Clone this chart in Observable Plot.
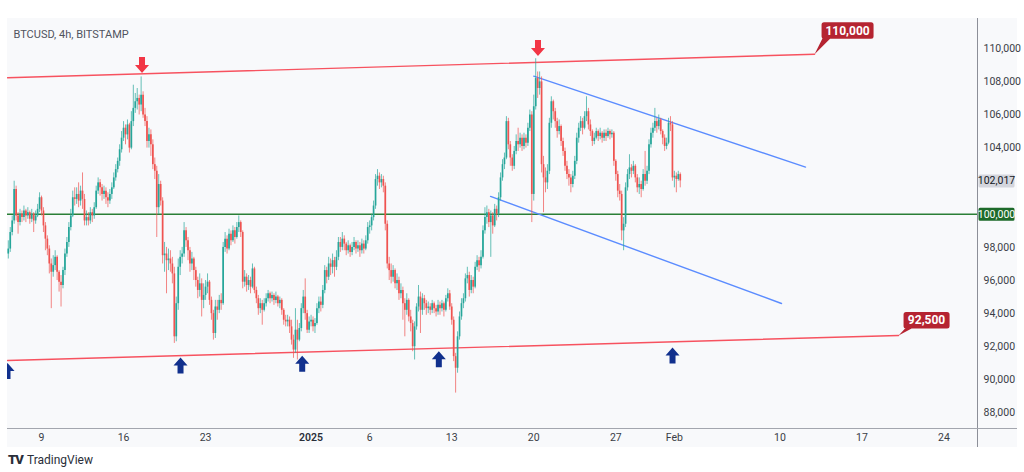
<!DOCTYPE html>
<html>
<head>
<meta charset="utf-8">
<script src="https://cdn.jsdelivr.net/npm/d3@7"></script>
<script src="https://cdn.jsdelivr.net/npm/@observablehq/plot@0.6"></script>
<style>
  body { margin:0; background:#ffffff; font-family: Roboto, "Noto Sans", sans-serif; }
  #wrap { position:relative; width:1024px; height:472px; overflow:hidden; }
  #panel { position:absolute; left:7px; top:18px; width:1010px; height:429px; background:#f8f9fb; }
  #chart { position:absolute; left:0; top:0; width:1024px; }
  .vline { position:absolute; left:977px; top:18px; width:1px; height:429px; background:#8c8f98; }
  .hline { position:absolute; left:7px; top:428px; width:1010px; height:1px; background:#a3a6ae; }
  #logo { position:absolute; left:8px; top:452px; font-size:12px; color:#2a2e39; display:flex; align-items:center; gap:4px; }
  #logo b { font-size:13px; letter-spacing:-1px; font-weight:900; }
</style>
</head>
<body>
<div id="wrap">
  <div id="panel"></div>
  <div id="chart"></div>
  <div class="vline"></div>
  <div class="hline"></div>
  <div id="logo"><b>TV</b><span>TradingView</span></div>
</div>
<script>
// ---------- DATA (prices in thousands of USD, 4h candles from 2024-12-06 04:00 UTC) ----------
const chartTitle = "BTCUSD, 4h, BITSTAMP";
const firstStart = "2024-12-06T04:00:00Z";
const firstOpenK = 97.6;

const closeK = [
  97.9,98.9,99.6,101.5,99.9,                 // Dec 6
  99.5,100.0,99.8,100.2,99.9,100.1,          // Dec 7
  99.7,100.0,99.6,99.9,100.3,101.0,          // Dec 8
  100.2,99.3,98.5,97.9,97.0,96.5,            // Dec 9
  96.9,97.4,96.5,95.9,95.7,96.6,             // Dec 10
  97.6,98.3,99.2,99.9,101.0,100.9,           // Dec 11
  101.2,100.8,101.4,100.9,99.6,99.8,         // Dec 12
  99.6,100.1,99.9,100.4,101.4,101.9,         // Dec 13
  101.6,101.2,101.4,101.0,100.8,101.2,       // Dec 14
  101.6,102.2,102.7,103.2,103.9,104.6,       // Dec 15
  105.2,104.8,105.4,104.0,105.6,106.4,       // Dec 16
  106.8,107.0,106.6,107.2,106.0,105.6,       // Dec 17
  104.4,104.8,104.2,103.0,102.6,100.4,       // Dec 18
  101.8,100.8,97.5,97.6,97.2,97.3,           // Dec 19
  97.0,96.4,92.6,94.6,96.8,97.4,             // Dec 20
  97.6,99.0,98.4,97.8,97.0,97.3,             // Dec 21
  96.6,96.0,95.4,95.8,94.8,95.1,             // Dec 22
  95.6,95.9,94.8,94.0,92.8,94.4,             // Dec 23
  94.2,94.8,94.6,98.0,98.5,97.9,             // Dec 24
  98.8,98.4,99.0,98.6,99.2,99.5,             // Dec 25
  98.9,95.9,96.2,95.7,96.0,95.6,             // Dec 26
  96.7,95.4,94.9,94.3,94.6,94.2,             // Dec 27
  94.6,94.9,95.2,94.9,95.1,94.8,             // Dec 28
  95.0,94.6,94.8,94.2,93.6,93.5,             // Dec 29
  93.6,93.2,92.4,91.8,93.0,92.4,             // Dec 30
  93.1,94.3,95.0,94.0,93.0,93.5,             // Dec 31
  93.6,93.2,93.4,94.3,94.7,94.5,             // Jan 1
  95.4,96.6,96.2,97.0,96.8,97.2,             // Jan 2
  96.8,97.4,98.3,98.0,98.5,98.2,             // Jan 3
  97.8,98.1,97.7,98.0,98.3,97.9,             // Jan 4
  98.1,97.8,98.2,97.9,98.4,99.2,             // Jan 5
  99.3,99.8,100.5,102.1,102.3,101.9,         // Jan 6
  102.1,101.7,99.4,97.0,96.6,96.2,           // Jan 7
  96.6,95.8,96.0,95.2,95.4,94.6,             // Jan 8
  94.2,94.8,93.8,93.4,92.0,93.2,             // Jan 9
  94.4,95.0,94.2,94.9,94.6,94.3,             // Jan 10
  94.4,94.2,94.6,94.3,94.1,94.5,             // Jan 11
  94.3,94.6,94.2,94.9,95.2,94.4,             // Jan 12
  93.6,91.4,90.7,92.6,93.8,94.6,             // Jan 13
  94.9,96.1,96.3,95.4,96.0,95.6,             // Jan 14
  96.8,97.2,96.9,97.4,99.0,99.8,             // Jan 15
  100.1,99.5,99.9,99.3,100.3,100.0,          // Jan 16
  101.0,102.2,103.0,103.4,105.6,104.2,       // Jan 17
  103.4,102.9,103.8,104.4,104.2,104.6,       // Jan 18
  104.1,104.6,104.3,105.2,106.0,101.2,       // Jan 19
  106.5,108.2,107.6,108.0,103.0,102.2,       // Jan 20
  101.9,102.6,105.5,106.8,106.2,105.6,       // Jan 21
  105.0,105.3,104.4,103.8,102.9,102.4,       // Jan 22
  102.2,101.8,102.3,103.2,104.6,105.2,       // Jan 23
  105.6,105.2,105.9,106.2,105.4,105.0,       // Jan 24
  104.4,104.6,105.0,104.7,104.9,104.6,       // Jan 25
  104.9,104.7,105.0,104.8,104.9,103.2,       // Jan 26
  102.4,101.4,101.2,99.0,99.4,101.6,         // Jan 27
  102.4,102.8,102.6,102.9,102.2,101.6,       // Jan 28
  101.8,101.5,102.4,102.0,102.6,104.2,       // Jan 29
  104.9,105.2,105.6,105.3,105.7,105.0,       // Jan 30
  104.6,104.1,104.3,105.5,105.4,102.2,       // Jan 31
  102.3,102.1,102.4,102.017                  // Feb 1
];
const highK = [
  98.4,99.2,99.9,102.0,101.7,
  100.1,100.3,100.2,100.5,100.3,100.4,
  100.2,100.3,100.1,100.2,100.6,101.3,
  101.1,100.4,99.5,98.7,98.1,97.3,
  97.5,97.8,97.5,96.6,96.3,96.8,
  97.9,98.6,99.5,100.3,101.4,101.6,
  101.6,101.9,101.7,102.5,101.2,100.2,
  100.1,100.4,100.3,100.7,101.7,102.2,
  102.1,101.8,101.7,101.6,101.3,101.5,
  101.9,102.5,103.0,103.4,104.2,105.0,
  105.6,105.4,105.7,105.5,106.2,107.8,
  107.3,107.6,107.2,108.3,107.4,106.4,
  105.9,105.2,105.1,104.5,103.4,102.9,
  102.4,102.0,101.0,98.3,98.0,97.9,
  97.8,97.4,96.8,95.0,97.3,97.8,
  98.0,99.5,99.2,98.6,98.0,97.7,
  97.4,96.8,96.2,96.4,96.1,95.8,
  96.0,96.4,96.0,95.0,94.2,94.8,
  94.8,95.1,95.2,98.3,98.9,98.7,
  99.1,99.0,99.3,99.2,99.5,99.9,
  99.6,99.0,96.6,96.4,96.3,96.2,
  97.0,96.8,95.6,95.1,94.9,94.8,
  94.9,95.2,95.4,95.3,95.3,95.2,
  95.3,95.1,95.0,94.9,94.3,93.9,
  93.9,93.8,93.6,92.7,94.3,93.6,
  93.4,94.6,95.4,96.1,94.2,93.8,
  93.9,93.8,93.7,94.6,95.0,95.0,
  95.7,96.9,96.8,97.4,97.3,97.6,
  97.4,97.8,98.6,98.6,98.9,98.7,
  98.3,98.4,98.2,98.3,98.6,98.4,
  98.4,98.3,98.5,98.4,98.7,99.5,
  99.6,100.0,100.8,102.4,102.7,102.5,
  102.4,102.3,101.9,99.6,97.4,97.0,
  96.9,96.7,96.4,96.2,95.8,95.6,
  94.9,95.2,94.9,94.2,93.6,93.5,
  94.6,95.7,95.3,95.2,95.1,94.8,
  94.7,94.6,94.8,94.7,94.5,94.8,
  94.7,94.8,94.7,95.1,95.5,95.4,
  94.6,93.8,91.6,92.9,94.1,94.9,
  95.2,96.4,96.8,96.5,96.3,96.2,
  97.1,97.5,97.4,97.8,99.3,100.4,
  100.5,100.3,100.2,100.1,100.6,100.5,
  101.3,102.5,103.3,103.7,105.9,105.8,
  104.4,103.6,104.1,104.8,105.2,104.9,
  104.8,104.9,104.8,105.5,106.3,106.2,
  107.2,109.4,108.6,108.6,108.3,103.5,
  102.8,103.0,105.8,107.1,106.9,106.4,
  105.8,105.7,105.4,104.6,104.0,103.2,
  102.7,102.4,102.6,103.5,104.9,105.5,
  105.9,105.8,106.2,107.1,106.4,105.7,
  105.1,104.9,105.2,105.1,105.2,105.0,
  105.1,105.1,105.2,105.1,105.1,105.0,
  103.3,102.6,101.8,101.4,99.8,101.9,
  102.7,103.6,103.0,103.2,103.0,102.4,
  102.2,102.0,102.7,103.8,102.9,104.5,
  105.2,105.5,106.4,105.8,106.0,105.8,
  105.1,104.8,104.6,105.8,105.9,105.6,
  102.6,102.5,102.6,102.5
];
const lowK = [
  97.3,97.7,98.7,99.4,99.6,
  98.8,99.3,99.5,99.6,99.5,99.7,
  99.4,99.5,98.9,99.4,99.8,100.1,
  99.9,98.9,97.8,97.5,96.4,94.3,
  96.2,96.6,96.0,95.3,94.4,95.5,
  96.3,97.4,98.0,99.0,99.8,100.5,
  100.6,100.4,100.5,100.3,99.3,99.3,
  99.3,99.4,99.5,99.7,100.3,101.2,
  101.1,100.8,100.9,100.6,100.4,100.6,
  100.9,101.5,102.0,102.5,102.9,103.7,
  104.4,104.2,104.5,103.7,103.9,105.3,
  106.1,106.3,106.0,106.2,105.8,105.3,
  104.0,104.0,103.5,102.7,102.1,98.6,
  100.0,100.5,97.0,96.5,95.2,96.6,
  96.5,95.8,92.2,92.3,94.2,96.3,
  97.0,97.4,98.0,97.2,96.5,96.6,
  96.0,95.6,94.9,95.0,93.8,94.3,
  94.8,95.2,94.5,93.6,92.4,92.5,
  93.6,94.0,94.2,94.5,97.7,97.6,
  97.8,98.1,98.3,98.2,98.5,98.9,
  98.6,95.5,95.6,95.3,95.4,95.2,
  95.5,95.2,94.6,93.9,94.0,93.3,
  94.1,94.4,94.7,94.6,94.7,94.5,
  94.6,94.4,94.3,93.9,93.3,93.2,
  93.2,92.8,92.1,91.3,91.6,91.2,
  92.3,92.9,94.0,93.6,92.8,92.8,
  93.2,92.9,92.8,93.3,94.0,94.1,
  94.3,95.2,95.8,96.0,96.3,96.4,
  96.2,96.6,97.2,97.7,97.8,97.8,
  97.5,97.6,97.4,97.5,97.8,97.6,
  97.7,97.4,97.6,97.6,97.8,98.2,
  98.8,99.0,99.6,100.3,101.7,101.5,
  101.6,101.3,99.0,96.7,96.0,95.8,
  95.9,95.5,95.4,94.8,94.9,93.6,
  92.6,93.9,93.5,92.9,91.7,91.2,
  93.0,94.1,92.8,93.9,94.2,93.9,
  94.0,93.9,94.0,94.0,93.8,93.9,
  93.9,94.1,93.8,94.1,94.7,94.2,
  93.3,91.1,89.2,90.4,92.4,93.6,
  94.3,94.7,95.8,95.0,95.2,95.2,
  95.5,96.6,96.5,96.7,97.3,98.8,
  99.4,99.2,97.4,98.8,99.2,99.6,
  99.8,100.8,102.0,102.7,103.3,103.9,
  102.9,102.6,102.7,103.6,103.8,104.0,
  103.8,103.9,104.0,104.1,105.0,99.5,
  100.8,106.3,107.0,107.2,102.5,100.1,
  101.3,101.5,102.4,105.2,105.7,105.2,
  104.6,104.8,104.1,103.5,102.6,102.1,
  101.7,101.3,101.6,102.1,103.0,104.3,
  105.0,104.8,105.1,105.6,105.1,104.7,
  104.1,104.2,104.5,104.4,104.5,104.3,
  104.4,104.4,104.6,104.5,104.6,102.9,
  102.0,101.0,100.8,98.4,97.8,99.2,
  101.4,102.1,102.2,102.4,101.9,101.3,
  101.2,101.0,101.4,101.7,101.8,102.4,
  104.0,104.6,105.0,104.9,105.1,104.8,
  104.2,103.8,103.9,104.2,105.0,102.0,
  101.6,101.3,102.0,101.6
];

// horizontal level and trendlines (time, price k)
const levelK = 100;
const resistanceTimes = ["2024-12-06T02:22:00Z", "2025-02-12T23:00:00Z"];
const resistanceK = [108.25, 109.67];
const supportTimes = ["2024-12-06T02:22:00Z", "2025-02-20T03:00:00Z"];
const supportK = [91.17, 92.68];
const channelUpperTimes = ["2025-01-20T00:00:00Z", "2025-02-12T04:30:00Z"];
const channelUpperK = [108.35, 102.85];
const channelLowerTimes = ["2025-01-16T07:30:00Z", "2025-02-10T03:20:00Z"];
const channelLowerK = [101.08, 94.61];

// arrows
const downArrowTimes = ["2024-12-17T13:48:00Z", "2025-01-20T08:40:00Z"];
const downArrowK = [109.02, 110.05];
const upArrowTimes = ["2024-12-06T02:22:00Z", "2024-12-20T20:40:00Z", "2024-12-31T05:50:00Z", "2025-01-11T21:36:00Z", "2025-01-31T20:10:00Z"];
const upArrowK = [90.53, 90.86, 90.97, 91.24, 91.47];

// callouts
const calloutLabels = ["110,000", "92,500"];

// axes
const xTickDates = ["2024-12-09", "2024-12-16", "2024-12-23", "2025-01-01", "2025-01-06", "2025-01-13", "2025-01-20", "2025-01-27", "2025-02-01", "2025-02-10", "2025-02-17", "2025-02-24"];
const xTickLabels = ["9", "16", "23", "2025", "6", "13", "20", "27", "Feb", "10", "17", "24"];
const yTickK = [88, 90, 92, 94, 96, 98, 104, 106, 108, 110];
const lastPriceK = 102.017;

// ---------- BUILD ----------
const fmt = d3.format(",");
const H4 = 4 * 3600 * 1000;
const t0 = Date.parse(firstStart);
const candles = closeK.map((c, i) => ({
  t: new Date(t0 + i * H4),
  o: i === 0 ? firstOpenK : closeK[i - 1],
  c, h: highK[i], l: lowK[i]
}));
const UP = "#26a69a", DOWN = "#ef5350";
const col = d => d.c >= d.o ? UP : DOWN;

const xDomain = [new Date("2024-12-06T02:22:00Z"), new Date("2025-02-26T20:40:00Z")];
const seg = (times, vals) => times.map((t, i) => ({t: new Date(t), v: vals[i]}));
const resistance = seg(resistanceTimes, resistanceK);
const support = seg(supportTimes, supportK);
const chUp = seg(channelUpperTimes, channelUpperK);
const chLo = seg(channelLowerTimes, channelLowerK);
const downArrows = seg(downArrowTimes, downArrowK);
const upArrows = seg(upArrowTimes, upArrowK);
const calloutTop = [{t: resistance[1].t, v: resistance[1].v, label: calloutLabels[0]}];
const calloutBot = [{t: support[1].t, v: support[1].v, label: calloutLabels[1]}];

const tickDates = xTickDates.map(d => new Date(d + "T00:00:00Z"));
const tickMap = new Map(tickDates.map((d, i) => [+d, xTickLabels[i]]));
const boldTicks = tickDates.filter(d => tickMap.get(+d) === "2025");
const normalTicks = tickDates.filter(d => tickMap.get(+d) !== "2025");

// custom symbols (pixel shapes)
const upArrowSym = {draw(ctx) {
  ctx.moveTo(0, -8); ctx.lineTo(7, 0); ctx.lineTo(3, 0); ctx.lineTo(3, 8);
  ctx.lineTo(-3, 8); ctx.lineTo(-3, 0); ctx.lineTo(-7, 0); ctx.closePath();
}};
const downArrowSym = {draw(ctx) {
  ctx.moveTo(0, 8); ctx.lineTo(7, 0); ctx.lineTo(3, 0); ctx.lineTo(3, -8);
  ctx.lineTo(-3, -8); ctx.lineTo(-3, 0); ctx.lineTo(-7, 0); ctx.closePath();
}};
function roundRect(ctx, x0, y0, x1, y1, r) {
  ctx.moveTo(x0 + r, y0); ctx.lineTo(x1 - r, y0); ctx.arcTo(x1, y0, x1, y0 + r, r);
  ctx.lineTo(x1, y1 - r); ctx.arcTo(x1, y1, x1 - r, y1, r);
  ctx.lineTo(x0 + r, y1); ctx.arcTo(x0, y1, x0, y1 - r, r);
  ctx.lineTo(x0, y0 + r); ctx.arcTo(x0, y0, x0 + r, y0, r); ctx.closePath();
}
const calloutTopSym = {draw(ctx) {
  roundRect(ctx, 7, -32, 59, -15.5, 2.5);
  ctx.moveTo(0, 0); ctx.lineTo(8, -16); ctx.lineTo(16, -16); ctx.closePath();
}};
const calloutBotSym = {draw(ctx) {
  roundRect(ctx, 5, -23.5, 51, -7, 2.5);
  ctx.moveTo(0, 0); ctx.lineTo(7, -7.5); ctx.lineTo(14, -7.5); ctx.closePath();
}};
const priceBoxSym = {draw(ctx) {
  roundRect(ctx, 1, -6.5, 37, 6.5, 1.5);
}};

const FONT = "Roboto, 'Noto Sans', sans-serif";
const RED = "#f7525f", CALLOUT = "#b52431", BLUE = "#5b8cff", NAVY = "#11308d";

const chart = Plot.plot({
  width: 1024, height: 447,
  marginLeft: 7, marginRight: 47, marginTop: 18, marginBottom: 19,
  x: {type: "utc", domain: xDomain, label: null},
  y: {domain: [87.06, 111.83], label: null},
  style: {background: "transparent", fontFamily: FONT},
  marks: [
    Plot.text([chartTitle], {frameAnchor: "top-left", text: d => d, dx: 6, dy: 12, textAnchor: "start", fill: "#50535e", fontSize: 11}),
    Plot.ruleY([levelK], {stroke: "#2a7f36", strokeWidth: 1.5}),
    Plot.line(resistance, {x: "t", y: "v", stroke: RED, strokeWidth: 1.4, clip: true}),
    Plot.line(support, {x: "t", y: "v", stroke: RED, strokeWidth: 1.4, clip: true}),
    Plot.line(chUp, {x: "t", y: "v", stroke: BLUE, strokeWidth: 1.4}),
    Plot.line(chLo, {x: "t", y: "v", stroke: BLUE, strokeWidth: 1.4}),
    Plot.ruleX(candles, {x: "t", y1: "l", y2: "h", stroke: col, strokeWidth: 1, strokeOpacity: 0.7, clip: true}),
    Plot.ruleX(candles, {x: "t", y1: "o", y2: "c", stroke: col, strokeWidth: 1.7, clip: true}),
    Plot.dot(downArrows, {x: "t", y: "v", symbol: downArrowSym, r: 5, fill: "#f23645", stroke: "none"}),
    Plot.dot(upArrows, {x: "t", y: "v", symbol: upArrowSym, r: 5, fill: NAVY, stroke: "none", clip: true}),
    Plot.dot(calloutTop, {x: "t", y: "v", symbol: calloutTopSym, r: 5, fill: CALLOUT, stroke: "none"}),
    Plot.text(calloutTop, {x: "t", y: "v", text: "label", dx: 33, dy: -23.5, fill: "white", fontSize: 12, fontWeight: "bold"}),
    Plot.dot(calloutBot, {x: "t", y: "v", symbol: calloutBotSym, r: 5, fill: CALLOUT, stroke: "none"}),
    Plot.text(calloutBot, {x: "t", y: "v", text: "label", dx: 28, dy: -15, fill: "white", fontSize: 12, fontWeight: "bold"}),
    Plot.axisY(yTickK, {anchor: "right", label: null, tickSize: 0, tickPadding: 6, tickFormat: d => fmt(Math.round(d * 1000)), fill: "#3a3d46", fontSize: 10.5}),
    Plot.axisX(normalTicks, {anchor: "bottom", label: null, tickSize: 0, tickPadding: 5, tickFormat: d => tickMap.get(+d), fill: "#3a3d46", fontSize: 10.5}),
    Plot.axisX(boldTicks, {anchor: "bottom", label: null, tickSize: 0, tickPadding: 5, tickFormat: d => tickMap.get(+d), fill: "#2a2e39", fontSize: 10.5, fontWeight: 600}),
    Plot.dot([lastPriceK], {x: () => xDomain[1], y: d => d, symbol: priceBoxSym, r: 5, fill: "#d4d6dd", stroke: "none", clip: false}),
    Plot.text([lastPriceK], {x: () => xDomain[1], y: d => d, text: d => fmt(Math.round(d * 1000)), dx: 19, fill: "#131722", fontSize: 10.5}),
    Plot.dot([levelK], {x: () => xDomain[1], y: d => d, symbol: priceBoxSym, r: 5, fill: "#1d6a2a", stroke: "none", clip: false}),
    Plot.text([levelK], {x: () => xDomain[1], y: d => d, text: d => fmt(d * 1000), dx: 19, fill: "white", fontSize: 10.5})
  ]
});
document.getElementById("chart").appendChild(chart);
</script>
</body>
</html>
